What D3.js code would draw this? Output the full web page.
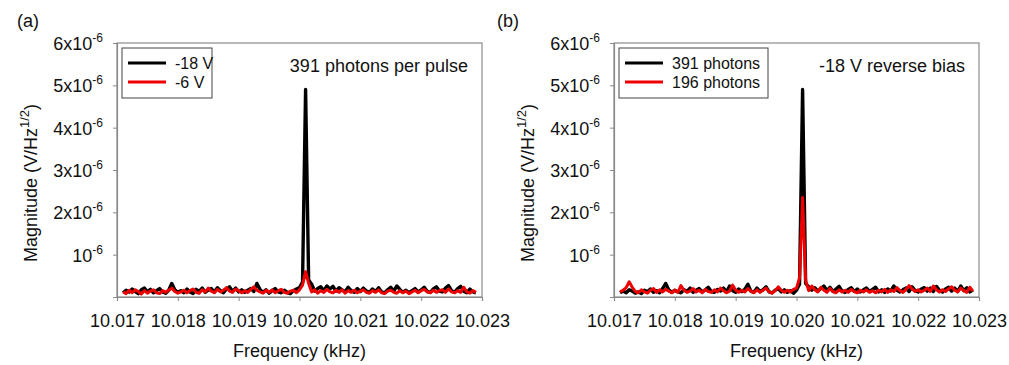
<!DOCTYPE html>
<html>
<head>
<meta charset="utf-8">
<script src="https://cdn.jsdelivr.net/npm/d3@7"></script>
<style>
  body { margin: 0; background: #fff; }
  svg { display: block; font-family: "Liberation Sans", Arial, sans-serif; }
</style>
</head>
<body>
<svg id="chart" width="1009" height="365"></svg>
<script>
// frequency bins (kHz)
var freqKHz = [
  10.0171,10.01715,10.0172,10.01725,10.0173,10.01735,10.0174,10.01745,10.0175,10.01755,
  10.0176,10.01765,10.0177,10.01775,10.0178,10.01785,10.0179,10.01795,10.0180,10.01805,
  10.0181,10.01815,10.0182,10.01825,10.0183,10.01835,10.0184,10.01845,10.0185,10.01855,
  10.0186,10.01865,10.0187,10.01875,10.0188,10.01885,10.0189,10.01895,10.0190,10.01905,
  10.0191,10.01915,10.0192,10.01925,10.0193,10.01935,10.0194,10.01945,10.0195,10.01955,
  10.0196,10.01965,10.0197,10.01975,10.0198,10.01985,10.0199,10.01995,10.0200,10.02005,
  10.0201,10.02015,10.0202,10.02025,10.0203,10.02035,10.0204,10.02045,10.0205,10.02055,
  10.0206,10.02065,10.0207,10.02075,10.0208,10.02085,10.0209,10.02095,10.0210,10.02105,
  10.0211,10.02115,10.0212,10.02125,10.0213,10.02135,10.0214,10.02145,10.0215,10.02155,
  10.0216,10.02165,10.0217,10.02175,10.0218,10.02185,10.0219,10.02195,10.0220,10.02205,
  10.0221,10.02215,10.0222,10.02225,10.0223,10.02235,10.0224,10.02245,10.0225,10.02255,
  10.0226,10.02265,10.0227,10.02275,10.0228,10.02285,10.0229
];

// magnitudes in units of 1e-6 V/Hz^1/2
// (a) -18 V
var magA18V = [
  0.10,0.16,0.12,0.19,0.13,0.08,0.17,0.21,0.12,0.18,0.10,0.15,0.20,0.12,0.09,0.16,0.32,0.17,0.11,0.15,
  0.10,0.19,0.12,0.08,0.18,0.13,0.21,0.11,0.16,0.20,0.12,0.22,0.15,0.10,0.19,0.24,0.13,0.21,0.12,0.17,
  0.11,0.16,0.20,0.13,0.32,0.18,0.11,0.17,0.09,0.15,0.20,0.12,0.10,0.16,0.11,0.08,0.15,0.19,0.22,0.35,
  4.90,
  0.40,0.30,0.14,0.20,0.24,0.15,0.26,0.19,0.25,0.14,0.22,0.17,0.12,0.23,0.15,0.11,0.20,0.13,0.21,0.14,
  0.11,0.19,0.13,0.22,0.12,0.10,0.17,0.23,0.14,0.26,0.18,0.11,0.16,0.10,0.15,0.20,0.12,0.17,0.23,0.13,
  0.11,0.19,0.24,0.14,0.12,0.21,0.27,0.15,0.11,0.20,0.25,0.13,0.10,0.19,0.12,0.10
];
// (a) -6 V
var magA6V = [
  0.12,0.08,0.16,0.10,0.17,0.13,0.07,0.15,0.09,0.14,0.17,0.10,0.08,0.15,0.11,0.16,0.21,0.13,0.09,0.12,
  0.16,0.10,0.15,0.19,0.11,0.09,0.17,0.12,0.21,0.14,0.10,0.18,0.12,0.16,0.22,0.14,0.11,0.19,0.15,0.10,
  0.15,0.11,0.18,0.24,0.16,0.12,0.09,0.16,0.11,0.17,0.10,0.15,0.18,0.11,0.09,0.14,0.16,0.10,0.17,0.28,
  0.60,
  0.32,0.12,0.17,0.09,0.15,0.11,0.18,0.12,0.10,0.16,0.11,0.17,0.09,0.15,0.11,0.16,0.10,0.14,0.17,0.11,
  0.09,0.15,0.11,0.17,0.10,0.08,0.14,0.16,0.11,0.09,0.15,0.10,0.14,0.08,0.12,0.16,0.10,0.15,0.18,0.12,
  0.10,0.16,0.11,0.15,0.17,0.11,0.19,0.12,0.10,0.15,0.11,0.23,0.12,0.09,0.15,0.11
];
// (b) 391 photons
var magB391 = [
  0.10,0.14,0.10,0.17,0.14,0.09,0.12,0.08,0.16,0.13,0.19,0.11,0.15,0.10,0.20,0.32,0.17,0.11,0.16,0.12,
  0.10,0.17,0.13,0.21,0.11,0.16,0.20,0.12,0.17,0.23,0.13,0.11,0.18,0.14,0.21,0.12,0.26,0.15,0.11,0.19,
  0.13,0.18,0.30,0.14,0.11,0.21,0.13,0.17,0.24,0.12,0.10,0.16,0.20,0.12,0.17,0.11,0.15,0.09,0.16,0.30,
  4.90,
  0.32,0.24,0.16,0.22,0.14,0.20,0.26,0.15,0.23,0.13,0.19,0.25,0.14,0.11,0.18,0.22,0.13,0.19,0.12,0.17,
  0.21,0.13,0.18,0.23,0.12,0.17,0.11,0.19,0.14,0.26,0.16,0.12,0.17,0.21,0.13,0.24,0.15,0.12,0.19,0.22,
  0.14,0.21,0.13,0.25,0.16,0.12,0.19,0.23,0.14,0.21,0.13,0.26,0.15,0.22,0.12,0.17
];
// (b) 196 photons
var magB196 = [
  0.12,0.16,0.22,0.36,0.23,0.13,0.10,0.17,0.12,0.09,0.16,0.20,0.11,0.17,0.12,0.18,0.14,0.10,0.16,0.11,
  0.27,0.16,0.11,0.14,0.20,0.12,0.16,0.10,0.18,0.13,0.11,0.17,0.12,0.21,0.15,0.10,0.14,0.28,0.16,0.11,
  0.16,0.12,0.20,0.14,0.10,0.17,0.11,0.16,0.21,0.12,0.09,0.15,0.24,0.16,0.11,0.16,0.12,0.18,0.21,0.45,
  2.35,
  0.40,0.15,0.26,0.17,0.12,0.23,0.16,0.11,0.20,0.13,0.10,0.17,0.12,0.16,0.11,0.18,0.13,0.10,0.16,0.12,
  0.17,0.11,0.15,0.10,0.16,0.12,0.18,0.11,0.17,0.13,0.22,0.15,0.11,0.18,0.27,0.19,0.13,0.17,0.12,0.16,
  0.21,0.13,0.26,0.17,0.12,0.17,0.13,0.19,0.24,0.16,0.12,0.21,0.15,0.11,0.23,0.14
];

var xTicks = [10.017, 10.018, 10.019, 10.020, 10.021, 10.022, 10.023];
var yTicks = [1, 2, 3, 4, 5, 6];
var yTickMantissa = ["", "2x", "3x", "4x", "5x", "6x"];

var svg = d3.select("#chart");

function drawPanel(left, letter, letterX, black, red, labels, note, legendW) {
  var top = 43, bottom = 297, width = 365;
  var g = svg.append("g");
  var grey = "#8a8a8a";

  var x = d3.scaleLinear().domain([10.017, 10.023]).range([left, left + width]);
  var y = d3.scaleLinear().domain([0, 6]).range([bottom, top]);

  // frame
  g.append("rect")
    .attr("x", left).attr("y", top)
    .attr("width", width).attr("height", bottom - top)
    .attr("fill", "none").attr("stroke", grey).attr("stroke-width", 1.2);

  // x axis
  var xAxis = d3.axisBottom(x).tickValues(xTicks).tickSize(4).tickFormat(d3.format(".3f"));
  var gx = g.append("g").attr("transform", "translate(0," + bottom + ")").call(xAxis);
  gx.select(".domain").attr("stroke", grey).attr("stroke-width", 1.2);
  gx.selectAll(".tick line").attr("stroke", grey);
  gx.selectAll(".tick text")
    .attr("y", 17).attr("dy", "0.71em")
    .style("font-size", "18px").style("font-family", "inherit").attr("fill", "#111");

  // y axis
  var yAxis = d3.axisLeft(y).tickValues(yTicks).tickSize(4).tickFormat("");
  var gy = g.append("g").attr("transform", "translate(" + left + ",0)").call(yAxis);
  gy.select(".domain").attr("stroke", grey).attr("stroke-width", 1.2);
  gy.selectAll(".tick line").attr("stroke", grey);
  gy.selectAll(".tick").each(function(d, i) {
    var t = d3.select(this).append("text")
      .attr("x", -14).attr("y", 6.5)
      .attr("text-anchor", "end").attr("fill", "#111")
      .style("font-size", "18px");
    t.append("tspan").text(yTickMantissa[i] + "10");
    t.append("tspan").attr("dy", -8).style("font-size", "12px").text("-6");
  });

  // axis titles
  g.append("text")
    .attr("x", left + width / 2).attr("y", 357)
    .attr("text-anchor", "middle").attr("fill", "#111")
    .style("font-size", "18px").text("Frequency (kHz)");

  var yl = g.append("text")
    .attr("transform", "translate(" + (left - 80) + "," + 183 + ") rotate(-90)")
    .attr("text-anchor", "middle").attr("fill", "#111")
    .style("font-size", "18px");
  yl.append("tspan").text("Magnitude (V/Hz");
  yl.append("tspan").attr("dy", -8).style("font-size", "13px").text("1/2");
  yl.append("tspan").attr("dy", 8).text(")");

  // panel letter
  g.append("text").attr("x", letterX).attr("y", 27)
    .attr("fill", "#111").style("font-size", "18px").text(letter);

  // traces
  var line = d3.line()
    .x(function(d, i) { return x(freqKHz[i]); })
    .y(function(d) { return y(d); });

  g.append("path").datum(black)
    .attr("d", line).attr("fill", "none")
    .attr("stroke", "#000").attr("stroke-width", 3.4).attr("stroke-linejoin", "round");
  g.append("path").datum(red)
    .attr("d", line).attr("fill", "none")
    .attr("stroke", "#ee0000").attr("stroke-width", 3).attr("stroke-linejoin", "round");

  // legend
  var lg = g.append("g").attr("transform", "translate(" + (left + 5) + ",48)");
  lg.append("rect").attr("width", legendW).attr("height", 50)
    .attr("fill", "#fff").attr("stroke", "#444").attr("stroke-width", 1);
  [["#000", labels[0]], ["#ee0000", labels[1]]].forEach(function(item, i) {
    var ly = 15 + i * 19;
    lg.append("line").attr("x1", 6).attr("x2", 44).attr("y1", ly).attr("y2", ly)
      .attr("stroke", item[0]).attr("stroke-width", 3);
    lg.append("text").attr("x", 53).attr("y", ly + 6)
      .attr("fill", "#111").style("font-size", "16px").text(item[1]);
  });

  // annotation
  g.append("text").attr("x", left + 351).attr("y", 72)
    .attr("text-anchor", "end").attr("fill", "#111")
    .style("font-size", "18px").text(note);
}

drawPanel(117, "(a)", 17, magA18V, magA6V, ["-18 V", "-6 V"], "391 photons per pulse", 90);
drawPanel(614, "(b)", 497, magB391, magB196, ["391 photons", "196 photons"], "-18 V reverse bias", 149);
</script>
</body>
</html>
